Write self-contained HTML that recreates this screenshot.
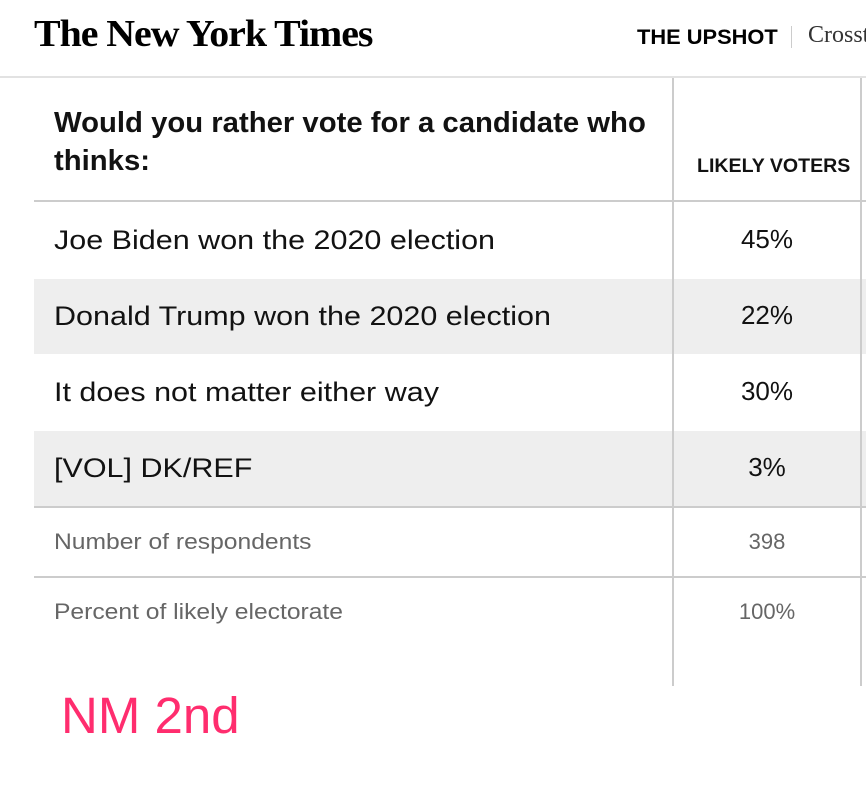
<!DOCTYPE html>
<html><head><meta charset="utf-8"><style>
body{margin:0;width:866px;height:804px;background:#fff;position:relative;overflow:hidden;font-family:"Liberation Sans",sans-serif;}
.a{position:absolute;white-space:nowrap;}
.h{height:1px;background:#ccc;position:absolute;}
.v{width:2px;background:#ccc;position:absolute;}
.g{position:absolute;background:#eeeeee;left:34px;width:832px;}
.r{font-size:27px;color:#121212;transform:scaleX(1.13);transform-origin:left;}
.n{font-size:26px;color:#121212;width:188px;text-align:center;left:673px;}
.s{font-size:22px;color:#666;transform:scaleX(1.12);transform-origin:left;}
.sn{font-size:22px;color:#666;width:188px;text-align:center;left:673px;}
</style></head><body>
<div class="a" style="left:34px;top:12px;font-family:'Liberation Serif',serif;font-weight:bold;font-size:38px;letter-spacing:-1px;color:#000;transform:scaleX(1.05);transform-origin:left;">The New York Times</div>
<div class="a" style="left:637px;top:26px;font-weight:bold;font-size:21px;color:#000;transform:scaleX(1.04);transform-origin:left;">THE UPSHOT</div>
<div class="a" style="left:791px;top:26px;width:1px;height:22px;background:#ccc;"></div>
<div class="a" style="left:808px;top:22px;font-family:'Liberation Serif',serif;font-size:24px;color:#333;">Crosstabs</div>
<div class="a" style="left:0;top:76px;width:866px;height:2px;background:#e2e2e2;"></div>
<div class="g" style="top:279px;height:75px;"></div>
<div class="g" style="top:431px;height:75px;"></div>
<div class="v" style="left:672px;top:78px;height:608px;"></div>
<div class="v" style="left:860px;top:78px;height:608px;"></div>
<div class="h" style="left:34px;width:832px;top:200px;height:2px;"></div>
<div class="h" style="left:34px;width:832px;top:506px;height:2px;"></div>
<div class="h" style="left:34px;width:832px;top:576px;height:2px;"></div>
<div class="a" style="left:54px;top:104px;font-weight:bold;font-size:29px;line-height:38px;color:#121212;transform:scaleX(1.01);transform-origin:left;">Would you rather vote for a candidate who<br>thinks:</div>
<div class="a" style="left:697px;top:156px;font-weight:bold;font-size:19px;color:#121212;transform:scaleX(1.03);transform-origin:left;">LIKELY VOTERS</div>
<div class="a r" style="left:54px;top:225px;">Joe Biden won the 2020 election</div>
<div class="a n" style="top:224px;">45%</div>
<div class="a r" style="left:54px;top:301px;">Donald Trump won the 2020 election</div>
<div class="a n" style="top:300px;">22%</div>
<div class="a r" style="left:54px;top:377px;">It does not matter either way</div>
<div class="a n" style="top:376px;">30%</div>
<div class="a r" style="left:54px;top:453px;">[VOL] DK/REF</div>
<div class="a n" style="top:452px;">3%</div>
<div class="a s" style="left:54px;top:529px;">Number of respondents</div>
<div class="a sn" style="top:529px;">398</div>
<div class="a s" style="left:54px;top:599px;">Percent of likely electorate</div>
<div class="a sn" style="top:599px;">100%</div>
<div class="a" style="left:61px;top:686px;font-size:51px;color:#ff2d6e;">NM 2nd</div>
</body></html>
